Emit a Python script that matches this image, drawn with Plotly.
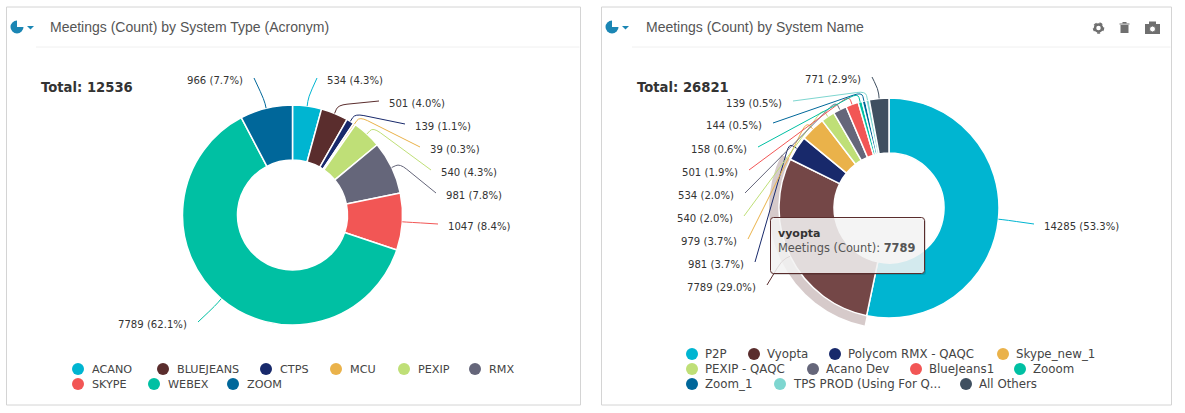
import math
import plotly.graph_objects as go

# left chart
type_names = ['ACANO', 'BLUEJEANS', 'CTPS', 'MCU', 'PEXIP', 'RMX', 'SKYPE', 'WEBEX', 'ZOOM']
type_values = [534, 501, 139, 39, 540, 981, 1047, 7789, 966]
type_labels = ['534 (4.3%)', '501 (4.0%)', '139 (1.1%)', '39 (0.3%)', '540 (4.3%)',
               '981 (7.8%)', '1047 (8.4%)', '7789 (62.1%)', '966 (7.7%)']

# right chart
name_names = ['P2P', 'Vyopta', 'Polycom RMX - QAQC', 'Skype_new_1', 'PEXIP - QAQC', 'Acano Dev',
              'BlueJeans1', 'Zooom', 'Zoom_1', 'TPS PROD (Using For Q...', 'All Others']
name_values = [14285, 7789, 981, 979, 540, 534, 501, 158, 144, 139, 771]
name_labels = ['14285 (53.3%)', '7789 (29.0%)', '981 (3.7%)', '979 (3.7%)', '540 (2.0%)', '534 (2.0%)',
               '501 (1.9%)', '158 (0.6%)', '144 (0.5%)', '139 (0.5%)', '771 (2.9%)']

colors = ['#00b5d1', '#5a2d2d', '#18296b', '#eab24a', '#bfdf77', '#65667a',
          '#f25655', '#00c0a3', '#00679a', '#7ed6d0', '#3f4f60']
type_colors = colors[:9]
name_colors = list(colors)
name_slice_colors = list(colors)
name_slice_colors[1] = '#744747'   # hovered slice is brighter

W, H = 1185, 413
FONT = 'DejaVu Sans'
TITLE_FONT = 'Liberation Sans'

# layout: leader end (x, y)
type_ends = [(317, 78), (379, 101), (405, 124), (420, 147), (431, 170),
             (436, 193), (438, 224), (198, 322), (254, 78)]
name_ends = [(1034, 224), (767, 285), (755, 262), (748, 239), (744, 216), (745, 193),
             (749, 170), (758, 147), (773, 123), (793, 101), (872, 77)]

type_legend_x = [78, 163, 266, 336, 404, 475, 78, 154, 233]
type_legend_y = [369, 369, 369, 369, 369, 369, 384, 384, 384]
name_legend_x = [692, 754, 835, 1003, 692, 813, 916, 1020, 692, 780, 966]
name_legend_y = [354, 354, 354, 354, 369, 369, 369, 369, 384, 384, 384]


def pie_domain(cx, cy, r):
    return {'x': [(cx - r) / W, (cx + r) / W], 'y': [1 - (cy + r) / H, 1 - (cy - r) / H]}


def leader_paths(values, ends, cols, cx, cy, r, elbow=9):
    shapes = []
    total = sum(values)
    cum = 0
    for v, end, c in zip(values, ends, cols):
        a = 2 * math.pi * (cum + v / 2) / total
        cum += v
        sx, sy = cx + r * math.sin(a), cy - r * math.cos(a)
        ex, ey = cx + (r + elbow) * math.sin(a), cy - (r + elbow) * math.cos(a)
        d = math.hypot(end[0] - ex, end[1] - ey)
        t = min(9 / d, 1)
        bx, by = ex + (end[0] - ex) * t, ey + (end[1] - ey) * t
        ax, ay = (sx + ex) / 2, (sy + ey) / 2
        path = f'M{sx:.1f},{sy:.1f} L{ax:.1f},{ay:.1f} Q{ex:.1f},{ey:.1f} {bx:.1f},{by:.1f} L{end[0]},{end[1]}'
        shapes.append(dict(type='path', path=path, line=dict(color=c, width=1), xref='x', yref='y', layer='above'))
    return shapes


def text(x, y, s, size=10.1, color='#333333', anchor='left', family=FONT):
    return dict(x=x, y=y, xref='x', yref='y', text=s, showarrow=False, xanchor=anchor, yanchor='middle',
                font=dict(family=family, size=size, color=color))


def panel(x0, x1, rule_x0):
    return [
        dict(type='rect', x0=x0, x1=x1, y0=7, y1=405, line=dict(color='#d4d4d4', width=1), fillcolor='white', layer='below'),
        dict(type='line', x0=rule_x0, x1=x1 - 1, y0=47, y1=47, line=dict(color='#f0f0f0', width=1), layer='below'),
    ]


def pie_icon(cx, cy):
    blue = '#1b86b4'
    return [
        dict(type='circle', x0=cx - 6.5, x1=cx + 6.5, y0=cy - 6.5, y1=cy + 6.5, fillcolor=blue, line=dict(width=0)),
        dict(type='path', path=f'M{cx},{cy} L{cx},{cy - 8} L{cx + 8},{cy - 8} L{cx + 8},{cy} Z', fillcolor='white', line=dict(width=0)),
        dict(type='path', path=f'M{cx + 1},{cy - 1} L{cx + 1},{cy - 7} A6,6 0 0 1 {cx + 7},{cy - 1} Z', fillcolor=blue, line=dict(width=0)),
        dict(type='path', path=f'M{cx + 10},{cy - 1} L{cx + 17},{cy - 1} L{cx + 13.5},{cy + 2.5} Z', fillcolor=blue, line=dict(width=0)),
    ]


def rounded(x0, y0, x1, y1, r):
    return (f'M{x0 + r},{y0} L{x1 - r},{y0} Q{x1},{y0} {x1},{y0 + r} L{x1},{y1 - r} Q{x1},{y1} {x1 - r},{y1} '
            f'L{x0 + r},{y1} Q{x0},{y1} {x0},{y1 - r} L{x0},{y0 + r} Q{x0},{y0} {x0 + r},{y0} Z')


def tool_icons():
    g = '#6f6f6f'
    s = []
    # gear
    s.append(dict(type='circle', x0=1093.5, x1=1103.5, y0=23, y1=33, fillcolor='rgba(0,0,0,0)', line=dict(color=g, width=1.5, dash='dot')))
    s.append(dict(type='circle', x0=1095, x1=1102, y0=24.5, y1=31.5, fillcolor='white', line=dict(color=g, width=2.5)))
    # trash
    s.append(dict(type='rect', x0=1120.5, x1=1128.5, y0=25, y1=33, fillcolor=g, line=dict(width=0)))
    s.append(dict(type='rect', x0=1119.5, x1=1129.5, y0=23.5, y1=24.5, fillcolor=g, line=dict(width=0)))
    s.append(dict(type='rect', x0=1122.5, x1=1126.5, y0=22, y1=23.5, fillcolor=g, line=dict(width=0)))
    # camera
    s.append(dict(type='rect', x0=1145, x1=1160, y0=24, y1=34, fillcolor=g, line=dict(width=0)))
    s.append(dict(type='rect', x0=1149, x1=1156, y0=21.5, y1=24, fillcolor=g, line=dict(width=0)))
    s.append(dict(type='circle', x0=1149.5, x1=1155.5, y0=26, y1=32, fillcolor='white', line=dict(color=g, width=1)))
    return s


fig = go.Figure()

# halo of the hovered slice
halo_colors = ['rgba(0,0,0,0)'] * len(name_values)
halo_colors[1] = 'rgba(90,45,45,0.25)'
fig.add_trace(go.Pie(values=name_values, labels=name_names, sort=False, direction='clockwise', rotation=0,
                     hole=0.46, domain=pie_domain(889, 208, 120), textinfo='none', hoverinfo='skip',
                     marker=dict(colors=halo_colors, line=dict(width=0)), showlegend=False))
fig.add_trace(go.Pie(values=type_values, labels=type_names, sort=False, direction='clockwise', rotation=0,
                     hole=0.5, domain=pie_domain(292.5, 215, 110), textinfo='none', hoverinfo='label+value',
                     marker=dict(colors=type_colors, line=dict(color='white', width=1.5)), showlegend=False))
fig.add_trace(go.Pie(values=name_values, labels=name_names, sort=False, direction='clockwise', rotation=0,
                     hole=0.5, domain=pie_domain(889, 208, 110), textinfo='none', hoverinfo='label+value',
                     marker=dict(colors=name_slice_colors, line=dict(color='white', width=1.5)), showlegend=False))

# legend dots
fig.add_trace(go.Scatter(x=type_legend_x + name_legend_x, y=type_legend_y + name_legend_y, mode='markers',
                         marker=dict(size=12, color=type_colors + name_colors, line=dict(width=0)),
                         hoverinfo='skip', showlegend=False))

shapes = panel(6.5, 580.5, 36) + panel(601.5, 1171.5, 632)
shapes += pie_icon(17, 27) + pie_icon(612, 27) + tool_icons()
shapes += leader_paths(type_values, type_ends, type_colors, 292.5, 215, 110)
shapes += leader_paths(name_values, name_ends, name_colors, 889, 208, 110)
# tooltip box
shapes.append(dict(type='path', path=rounded(771.5, 219, 926, 275, 3), fillcolor='rgba(0,0,0,0.14)', line=dict(width=0), layer='above'))
shapes.append(dict(type='path', path=rounded(770.5, 217.5, 924.5, 273.5, 3), fillcolor='rgba(248,248,248,0.85)',
                   line=dict(color='#5a2d2d', width=1), layer='above'))

anns = [
    text(48, 27, 'Meetings (Count) by System Type (Acronym)', 14, '#555555', family=TITLE_FONT),
    text(644, 27, 'Meetings (Count) by System Name', 14, '#555555', family=TITLE_FONT),
    text(39, 87, '<b>Total: 12536</b>', 13.2, '#333333'),
    text(635, 87, '<b>Total: 26821</b>', 13.2, '#333333'),
    text(776, 233, '<b>vyopta</b>', 11, '#333333'),
    text(776, 248, 'Meetings (Count): <b>7789</b>', 11.4, '#555555'),
]

for s, e in zip(type_labels, type_ends):
    if e[0] < 292:
        anns.append(text(e[0] - 9, e[1] + 2, s, anchor='right'))
    else:
        anns.append(text(e[0] + 8, e[1] + 2, s))
for s, e in zip(name_labels, name_ends):
    if e[0] < 889:
        anns.append(text(e[0] - 9, e[1] + 2, s, anchor='right'))
    else:
        anns.append(text(e[0] + 8, e[1] + 2, s))
for n, x, y in zip(type_names, type_legend_x, type_legend_y):
    anns.append(text(x + 12, y, n, 11.2, '#444444'))
for n, x, y in zip(name_names, name_legend_x, name_legend_y):
    anns.append(text(x + 11, y, n, 11.8, '#444444'))

fig.update_layout(
    width=W, height=H, margin=dict(l=0, r=0, t=0, b=0), paper_bgcolor='white', plot_bgcolor='rgba(0,0,0,0)',
    xaxis=dict(range=[0, W], visible=False, fixedrange=True, domain=[0, 1]),
    yaxis=dict(range=[H, 0], visible=False, fixedrange=True, domain=[0, 1]),
    shapes=shapes, annotations=anns, showlegend=False,
)

# page body has a default 8px margin
fig.write_html("out.html", config={'displayModeBar': False},
               post_script="document.body.style.margin='0';document.documentElement.style.overflow='hidden';")
